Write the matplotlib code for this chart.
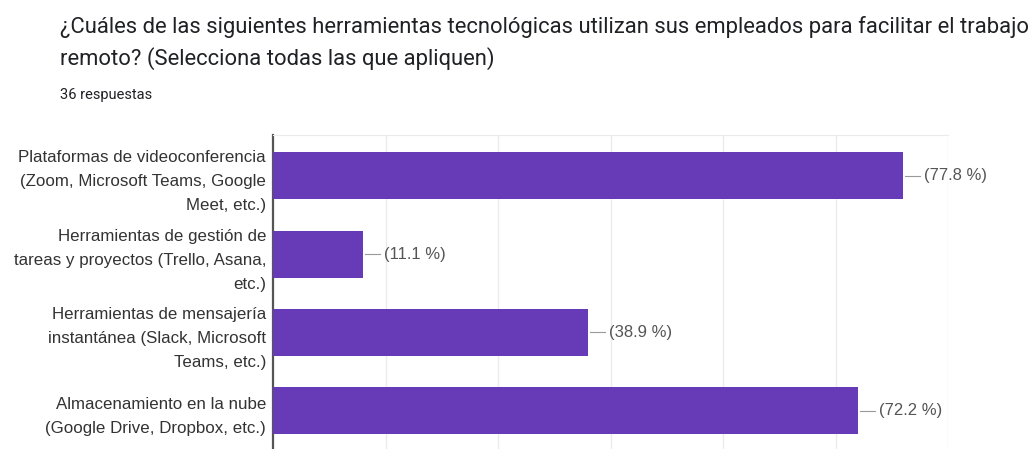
import numpy as np
import matplotlib.pyplot as plt

# Datos (36 respuestas)
categorias = [
    "Plataformas de videoconferencia\n(Zoom, Microsoft Teams, Google\nMeet, etc.)",
    "Herramientas de gestión de\ntareas y proyectos (Trello, Asana,\netc.)",
    "Herramientas de mensajería\ninstantánea (Slack, Microsoft\nTeams, etc.)",
    "Almacenamiento en la nube\n(Google Drive, Dropbox, etc.)",
]
conteos = [28, 4, 14, 26]
porcentajes = [77.8, 11.1, 38.9, 72.2]
ticks_x = [5, 10, 15, 20, 25, 30]

titulo = ("¿Cuáles de las siguientes herramientas tecnológicas utilizan sus empleados para facilitar el trabajo\n"
          "remoto? (Selecciona todas las que apliquen)")
subtitulo = "36 respuestas"

morado = "#673ab7"

fig = plt.figure(figsize=(10.34, 4.49), dpi=100)
ax = fig.add_axes([273 / 1034, 0, (948 - 273) / 1034, (449 - 135) / 449])

y = np.arange(len(categorias))
ax.barh(y, conteos, height=0.6, color=morado, zorder=3)
ax.set_ylim(3.49, -0.52)
ax.set_xlim(0, 30)

for xv in ticks_x:
    ax.axvline(xv, color="#ebebeb", lw=1, zorder=1)

for yi, c, p in zip(y, conteos, porcentajes):
    ax.plot([c + 0.1, c + 0.75], [yi, yi], color="#999999", lw=0.8, zorder=3, clip_on=False)
    ax.text(c + 0.95, yi, f"({p} %)", va="center", ha="left", fontsize=12,
            color="#555555", family="Liberation Sans")

ax.set_yticks(y)
ax.set_yticklabels(categorias, fontsize=12.2, color="#333333", family="Liberation Sans",
                   linespacing=1.75)
ax.tick_params(axis="y", length=0, pad=5)
ax.set_xticks([])

for s in ["right", "bottom"]:
    ax.spines[s].set_visible(False)
ax.spines["top"].set_color("#ebebeb")
ax.spines["left"].set_color("#555555")
ax.spines["left"].set_linewidth(1.6)

fig.text(60 / 1034, 1 - 43 / 449, titulo, fontsize=15.8, color="#202124", family="Roboto",
         va="center", ha="left", linespacing=1.45)
fig.text(60 / 1034, 1 - 95 / 449, subtitulo, fontsize=10.5, color="#202124", family="Roboto",
         va="center", ha="left")

fig.savefig("out.png", dpi=100)
